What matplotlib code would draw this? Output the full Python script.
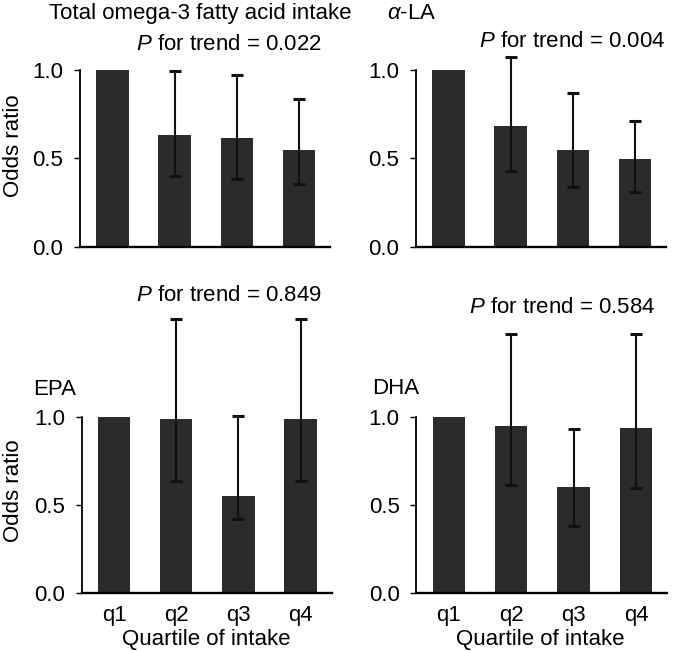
import matplotlib
matplotlib.use("Agg")
import matplotlib.pyplot as plt
import numpy as np

plt.rcParams['font.family'] = ['Liberation Sans', 'DejaVu Sans']
plt.rcParams['mathtext.fontset'] = 'custom'
plt.rcParams['mathtext.rm'] = 'Liberation Sans'
plt.rcParams['mathtext.it'] = 'Liberation Sans:italic'

quartiles = ["q1", "q2", "q3", "q4"]

total_or = [1.0, 0.633, 0.614, 0.550]
total_lo = [1.0, 0.403, 0.382, 0.356]
total_hi = [1.0, 0.994, 0.972, 0.834]

ala_or = [1.0, 0.682, 0.550, 0.499]
ala_lo = [1.0, 0.429, 0.341, 0.311]
ala_hi = [1.0, 1.072, 0.870, 0.712]

epa_or = [1.0, 0.994, 0.551, 0.994]
epa_lo = [1.0, 0.637, 0.420, 0.637]
epa_hi = [1.0, 1.559, 1.011, 1.559]

dha_or = [1.0, 0.951, 0.602, 0.943]
dha_lo = [1.0, 0.616, 0.383, 0.600]
dha_hi = [1.0, 1.477, 0.936, 1.477]

W, H = 673, 651
FS = 16
fig = plt.figure(figsize=(W / 100, H / 100), dpi=100)

def add_axes_px(left, right, bottom, top):
    return fig.add_axes([left / W, 1 - bottom / H, (right - left) / W, (bottom - top) / H])

def panel(ax, orv, lo, hi, ymax, show_x):
    x = np.arange(len(quartiles))
    orv = np.array(orv); lo = np.array(lo); hi = np.array(hi)
    ax.bar(x, orv, width=0.52, color='#2b2b2b', zorder=2)
    mask = np.arange(len(x)) > 0
    ax.errorbar(x[mask], orv[mask], yerr=[orv[mask] - lo[mask], hi[mask] - orv[mask]],
                fmt='none', ecolor='#111111', elinewidth=1.5, capsize=4.5, capthick=2.2,
                zorder=3, clip_on=False)
    ax.set_xlim(-0.52, 3.5)
    ax.set_ylim(0, ymax)
    for s in ['top', 'right']:
        ax.spines[s].set_visible(False)
    ax.spines['left'].set_bounds(0, 1.0)
    ax.spines['left'].set_linewidth(1.3)
    ax.spines['bottom'].set_linewidth(1.7)
    ax.set_yticks([0, 0.5, 1.0])
    ax.set_yticklabels(["0.0", "0.5", "1.0"], fontsize=FS)
    ax.tick_params(axis='y', length=4, width=1.0, pad=8)
    ax.set_xticks(x)
    if show_x:
        ax.set_xticklabels(quartiles, fontsize=FS)
    else:
        ax.set_xticklabels([])
    ax.tick_params(axis='x', length=0, pad=9)
    ax.patch.set_alpha(0)

ax1 = add_axes_px(80, 330, 247, 247 - 1.1 * 177)
panel(ax1, total_or, total_lo, total_hi, 1.1, False)
ax2 = add_axes_px(416, 666, 247, 247 - 1.1 * 177)
panel(ax2, ala_or, ala_lo, ala_hi, 1.1, False)
ax3 = add_axes_px(81.7, 331.7, 593, 593 - 1.6 * 175.5)
panel(ax3, epa_or, epa_lo, epa_hi, 1.6, True)
ax4 = add_axes_px(416.3, 667.3, 593, 593 - 1.6 * 175.5)
panel(ax4, dha_or, dha_lo, dha_hi, 1.6, True)

def ftext(x, y, s, **kw):
    fig.text(x / W, 1 - y / H, s, fontsize=FS, **kw)

ftext(49, 19, "Total omega-3 fatty acid intake", ha='left', va='baseline')
ftext(387, 19, r"$\mathit{\alpha}$-LA", ha='left', va='baseline')
ftext(322, 50, r"$\mathit{P}$ for trend = 0.022", ha='right', va='baseline')
ftext(665, 47, r"$\mathit{P}$ for trend = 0.004", ha='right', va='baseline')
ftext(322, 301, r"$\mathit{P}$ for trend = 0.849", ha='right', va='baseline')
ftext(655, 313, r"$\mathit{P}$ for trend = 0.584", ha='right', va='baseline')
ftext(33, 395, "EPA", ha='left', va='baseline')
ftext(372, 394, "DHA", ha='left', va='baseline')
ftext(14, 146, "Odds ratio", ha='center', va='center', rotation=90)
ftext(14, 491, "Odds ratio", ha='center', va='center', rotation=90)
ftext(206, 645, "Quartile of intake", ha='center', va='baseline')
ftext(540, 645, "Quartile of intake", ha='center', va='baseline')

fig.savefig("out.png", dpi=100)
